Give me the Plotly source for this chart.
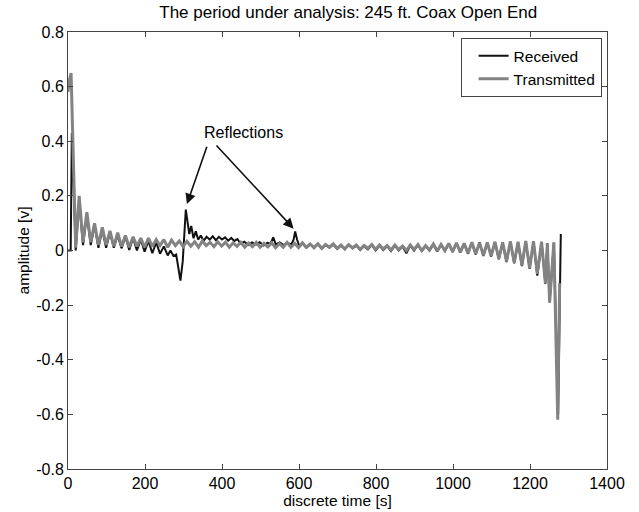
import plotly.graph_objects as go

# ---------------- data ----------------
transmitted_t = [0, 3, 8, 13, 20,
    29, 39, 49, 59, 69, 79, 89, 99, 109, 119, 129, 139, 149, 159, 169, 179, 189, 199,
    209, 219, 229, 239, 249, 259, 269, 279, 289, 299, 309, 319, 329, 339, 349, 359, 369, 379, 389, 399,
    409, 419, 429, 439, 449, 459, 469, 479, 489, 499, 509, 519, 529, 539, 549, 559, 569, 579, 589, 599,
    609, 619, 629, 639, 649, 659, 669, 679, 689, 699, 709, 719, 729, 739, 749, 759, 769, 779, 789, 799,
    809, 819, 829, 839, 849, 859, 869, 879, 889, 899, 909, 919, 929, 939, 949, 959, 969, 979, 989, 999,
    1009, 1019, 1029, 1039, 1049, 1059, 1069, 1079, 1089, 1099, 1109, 1119, 1129, 1139, 1149, 1159,
    1169, 1179, 1189, 1199, 1209, 1219,
    1230, 1240, 1245, 1251, 1262, 1272, 1277]
transmitted_v = [0.58, 0.62, 0.65, 0.35, 0.01,
    0.20, 0.03, 0.14, 0.03, 0.10, 0.02, 0.085, 0.02, 0.072, 0.015, 0.065, 0.015, 0.055, 0.012, 0.05, 0.015, 0.045, 0.012,
    0.045, 0.015, 0.04, 0.018, 0.04, 0.012, 0.038, 0.018, 0.035, 0.014, 0.034, 0.016, 0.032, 0.012, 0.035, 0.018, 0.03, 0.014, 0.032, 0.016,
    0.03, 0.012, 0.028, 0.015, 0.03, 0.012, 0.027, 0.014, 0.03, 0.012, 0.026, 0.013, 0.028, 0.01, 0.025, 0.012, 0.03, 0.012, 0.026, 0.01,
    0.028, 0.012, 0.024, 0.01, 0.025, 0.008, 0.022, 0.012, 0.024, 0.008, 0.02, 0.006, 0.022, 0.01, 0.02, 0.004, 0.018, 0.008, 0.022, 0.004,
    0.02, 0.006, 0.018, 0.002, 0.02, 0.004, 0.016, 0.0, 0.02, 0.004, 0.022, 0.0, 0.018, 0.002, 0.024, -0.002, 0.022, 0.0, 0.026, -0.004,
    0.028, -0.006, 0.026, -0.01, 0.03, -0.012, 0.028, -0.018, 0.03, -0.02, 0.032, -0.03, 0.03, -0.04, 0.034, -0.045,
    0.032, -0.055, 0.035, -0.065, 0.034, -0.085,
    0.032, -0.12, 0.025, -0.19, 0.03, -0.62, -0.12]

received_t = [0, 7, 10, 14, 20,
    29, 39, 49, 59, 69, 79, 89, 99, 109, 119, 129, 139, 149, 159, 169, 179, 189, 199,
    209, 219, 229, 239, 249, 259, 266, 274, 281, 286, 292, 298, 302, 306, 311, 315, 320, 326, 332, 338,
    345, 352, 360, 368, 376, 384, 392, 400, 408, 416, 424, 432, 440, 448, 458, 468, 478, 488, 498, 508,
    518, 526, 533, 540, 550, 560, 570, 580, 586, 590, 595, 600,
    609, 619, 629, 639, 649, 659, 669, 679, 689, 699, 709, 719, 729, 739, 749, 759, 769, 779, 789, 799,
    809, 819, 829, 839, 849, 859, 869, 879, 889, 899, 909, 919, 929, 939, 949, 959, 969, 979, 989, 999,
    1009, 1019, 1029, 1039, 1049, 1059, 1069, 1079, 1089, 1099, 1109, 1119, 1129, 1139, 1149, 1159,
    1169, 1179, 1189, 1199, 1209, 1219,
    1230, 1240, 1245, 1251, 1262, 1273, 1280]
received_v = [0.0, 0.0, 0.43, 0.25, 0.0,
    0.18, 0.02, 0.13, 0.02, 0.09, 0.01, 0.075, 0.01, 0.065, 0.01, 0.055, 0.008, 0.05, 0.002, 0.045, 0.0, 0.04, -0.004,
    0.035, -0.01, 0.03, -0.012, 0.015, -0.018, 0.0, -0.02, -0.015, -0.06, -0.11, -0.04, 0.08, 0.15, 0.10, 0.06, 0.09, 0.045, 0.07, 0.04,
    0.055, 0.035, 0.05, 0.04, 0.052, 0.038, 0.05, 0.04, 0.048, 0.036, 0.046, 0.035, 0.042, 0.025, 0.032, 0.02, 0.03, 0.022, 0.03, 0.018,
    0.028, 0.025, 0.048, 0.022, 0.03, 0.02, 0.028, 0.022, 0.04, 0.07, 0.04, 0.018,
    0.026, 0.01, 0.022, 0.012, 0.024, 0.006, 0.02, 0.01, 0.022, 0.006, 0.018, 0.004, 0.02, 0.008, 0.018, 0.002, 0.016, 0.004, 0.02, 0.0,
    0.018, 0.002, 0.016, -0.002, 0.018, 0.0, 0.015, -0.01, 0.018, 0.0, 0.02, -0.002, 0.016, 0.0, 0.022, -0.004, 0.02, -0.002, 0.024, -0.006,
    0.026, -0.008, 0.024, -0.012, 0.028, -0.014, 0.03, -0.02, 0.028, -0.022, 0.03, -0.032, 0.028, -0.042, 0.032, -0.047,
    0.03, -0.057, 0.033, -0.067, 0.032, -0.092,
    0.03, -0.122, 0.026, -0.19, 0.028, -0.60, 0.06]

x_ticks = [0, 200, 400, 600, 800, 1000, 1200, 1400]
x_tick_labels = ["0", "200", "400", "600", "800", "1000", "1200", "1400"]
y_ticks = [-0.8, -0.6, -0.4, -0.2, 0, 0.2, 0.4, 0.6, 0.8]
y_tick_labels = ["-0.8", "-0.6", "-0.4", "-0.2", "0", "0.2", "0.4", "0.6", "0.8"]

series_names = ["Received", "Transmitted"]
annotation_text = "Reflections"
annotation_pos = (457, 0.432)
arrow_tips = [(309, 0.17), (586, 0.08)]
arrow_tails = [(362, 0.385), (382, 0.39)]

title_text = "The period under analysis: 245 ft. Coax Open End"
x_title = "discrete time [s]"
y_title = "amplitude [v]"

# ---------------- figure ----------------
FONT = "Liberation Sans, Arial, sans-serif"
fig = go.Figure()
fig.add_trace(go.Scatter(x=received_t, y=received_v, mode="lines", name=series_names[0],
                         line=dict(color="#111111", width=2)))
fig.add_trace(go.Scatter(x=transmitted_t, y=transmitted_v, mode="lines", name=series_names[1],
                         line=dict(color="#838383", width=3)))

for tip, tail in zip(arrow_tips, arrow_tails):
    fig.add_annotation(x=tip[0], y=tip[1], ax=tail[0], ay=tail[1], axref="x", ayref="y",
                       xref="x", yref="y", text="", showarrow=True,
                       arrowhead=2, arrowsize=1.3, arrowwidth=1.6, arrowcolor="#111111")
fig.add_annotation(x=annotation_pos[0], y=annotation_pos[1], xref="x", yref="y",
                   text=annotation_text, showarrow=False,
                   font=dict(family=FONT, size=16, color="black"))

axis_common = dict(showline=True, linecolor="#444444", linewidth=1, mirror="ticks",
                   ticks="inside", ticklen=5, tickcolor="#444444", showgrid=False,
                   zeroline=False, automargin=False,
                   tickfont=dict(family=FONT, size=16, color="black"))
fig.update_xaxes(range=[0, 1400], tickvals=x_ticks, ticktext=x_tick_labels,
                 title=dict(text=x_title, font=dict(family=FONT, size=15.5, color="black"), standoff=0),
                 **axis_common)
fig.update_yaxes(range=[-0.8, 0.8], tickvals=y_ticks, ticktext=y_tick_labels,
                 title=dict(text=y_title, font=dict(family=FONT, size=15.5, color="black"), standoff=2),
                 **axis_common)

fig.update_layout(
    width=639, height=512,
    margin=dict(l=68, r=32, t=32, b=43),
    paper_bgcolor="white", plot_bgcolor="white",
    title=dict(text=title_text, x=0.52, xref="paper", xanchor="center",
               y=1 - 12 / 512, yref="container", yanchor="middle",
               font=dict(family=FONT, size=17, color="black")),
    legend=dict(x=0.99, y=0.986, xanchor="right", yanchor="top",
                bordercolor="#444444", borderwidth=1, bgcolor="white",
                font=dict(family=FONT, size=15.5, color="black"),
                tracegroupgap=0, indentation=12),
    showlegend=True,
)

fig.write_html("out.html", config={"displayModeBar": False},
               post_script="document.body.style.margin='0px';")
